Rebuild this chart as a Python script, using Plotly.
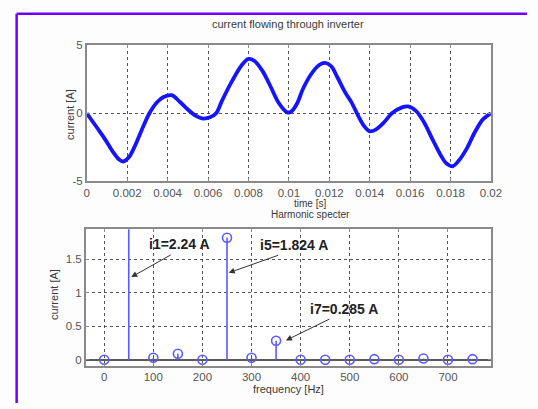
import plotly.graph_objects as go

# ---- time-domain current through the inverter ----
time_s = [0.0000, 0.0005, 0.0009, 0.0013, 0.0016, 0.0018, 0.0021, 0.0024, 0.0027,
          0.0031, 0.0035, 0.0038, 0.0042, 0.0046, 0.0050, 0.0054, 0.0057, 0.0061,
          0.0064, 0.0067, 0.0072, 0.0077, 0.0080, 0.0083, 0.0087, 0.0091, 0.0095,
          0.0099, 0.0101, 0.0104, 0.0107, 0.0111, 0.0115, 0.0118, 0.0121, 0.0124,
          0.0128, 0.0131, 0.0134, 0.0137, 0.0140, 0.0143, 0.0147, 0.0151, 0.0156,
          0.0159, 0.0163, 0.0167, 0.0171, 0.0175, 0.0178, 0.0181, 0.0184, 0.0188,
          0.0192, 0.0196, 0.0200]
current_a = [0.0, -1.05, -1.9, -2.85, -3.4, -3.55, -3.2, -2.35, -1.3,
             0.0, 0.85, 1.2, 1.33, 0.85, 0.28, -0.2, -0.38, -0.3,
             0.0, 0.95, 2.4, 3.6, 4.0, 3.85, 3.1, 1.95, 0.75,
             0.08, 0.1, 0.7, 1.8, 2.87, 3.55, 3.7, 3.45, 2.65,
             1.5, 0.8, -0.1, -0.9, -1.33, -1.2, -0.68, 0.0, 0.43,
             0.5, 0.15, -0.7, -1.9, -3.05, -3.7, -3.9, -3.5, -2.6,
             -1.4, -0.45, 0.0]
time_ticks = [0, 0.002, 0.004, 0.006, 0.008, 0.01, 0.012, 0.014, 0.016, 0.018, 0.02]
time_tick_text = ["0", "0.002", "0.004", "0.006", "0.008", "0.01", "0.012",
                  "0.014", "0.016", "0.018", "0.02"]

# ---- harmonic spectrum ----
freq_hz = [0, 50, 100, 150, 200, 250, 300, 350, 400, 450, 500, 550, 600, 650, 700, 750]
amp_a = [0.0, 2.24, 0.03, 0.09, 0.0, 1.824, 0.03, 0.285, 0.0, 0.0, 0.0, 0.01,
         0.0, 0.02, 0.0, 0.01]
freq_ticks = [0, 100, 200, 300, 400, 500, 600, 700]
amp_ticks = [0, 0.5, 1, 1.5]
amp_tick_text = ["0", "0.5", "1", "1.5"]

labels = ["i1=2.24 A", "i5=1.824 A", "i7=0.285 A"]
label_pos = [(154, 1.733), (386, 1.708), (488, 0.757)]
arrow_heads = [(55, 1.235), (253.5, 1.30), (370, 0.29)]
arrow_tails = [(41, -23), (51, -18), (45, -22)]

W, H = 538, 409
FONT = "Liberation Sans, Arial, sans-serif"
TICK_COL = "#555555"
GRID_COL = "#555555"
BOX_COL = "#8a8a8a"
BLUE_LINE = "#1414ff"
STEM_BLUE = "#5a5aff"

fig = go.Figure()

fig.add_trace(go.Scatter(
    x=time_s, y=current_a, mode="lines",
    line=dict(color=BLUE_LINE, width=3.8, shape="spline", smoothing=0.9),
    xaxis="x", yaxis="y", showlegend=False, hoverinfo="skip"))

# stems as broken line segments from 0 up to each amplitude
stem_x, stem_y = [], []
for f, a in zip(freq_hz, amp_a):
    stem_x += [f, f, None]
    stem_y += [0, a, None]
fig.add_trace(go.Scatter(
    x=stem_x, y=stem_y, mode="lines",
    line=dict(color=STEM_BLUE, width=1.6),
    xaxis="x2", yaxis="y2", showlegend=False, hoverinfo="skip"))
fig.add_trace(go.Scatter(
    x=freq_hz, y=amp_a, mode="markers",
    marker=dict(symbol="circle-open", size=9, color=STEM_BLUE,
                line=dict(color=STEM_BLUE, width=1.6)),
    xaxis="x2", yaxis="y2", showlegend=False, hoverinfo="skip"))


def px_x(px):
    return px / W


def px_y(py):
    return 1 - py / H


common_axis = dict(
    showline=True, mirror="ticks", linecolor=BOX_COL, linewidth=1.5,
    showgrid=True, gridcolor=GRID_COL, gridwidth=1, griddash="dot",
    ticks="inside", ticklen=3, tickcolor=BOX_COL,
    tickfont=dict(family=FONT, size=11.5, color=TICK_COL),
    zeroline=False, fixedrange=True,
)

fig.update_layout(
    width=W, height=H,
    margin=dict(l=0, r=0, t=0, b=0),
    paper_bgcolor="#fdfdfd", plot_bgcolor="#ffffff",
    xaxis=dict(domain=[px_x(86), px_x(501)], range=[0, 0.02],
               tickmode="array", tickvals=time_ticks, ticktext=time_tick_text,
               anchor="y", **common_axis),
    yaxis=dict(domain=[px_y(180.5), px_y(40.5)], range=[-5, 5],
               tickmode="array", tickvals=[-5, 0, 5], ticktext=["-5", "0", "5"],
               anchor="x", **common_axis),
    xaxis2=dict(domain=[px_x(85), px_x(501)], range=[-37.5, 787.5],
                tickmode="array", tickvals=freq_ticks,
                anchor="y2", **common_axis),
    yaxis2=dict(domain=[px_y(370.7), px_y(230)], range=[-0.09, 1.95],
                tickmode="array", tickvals=amp_ticks, ticktext=amp_tick_text,
                anchor="x2", **common_axis),
)
fig.update_yaxes(selector=dict(anchor="x2"), zeroline=True,
                 zerolinecolor="#5a5a5a", zerolinewidth=2)

# axis titles and subplot titles
text_items = [
    ("current flowing through inverter", 293, 19, 11, 0),
    ("time [s]", 315, 203.5, 10, 0),
    ("Harmonic specter", 316, 215, 10, 0),
    ("frequency [Hz]", 293, 395, 11, 0),
    ("current [A]", 68, 112, 11, -90),
    ("current [A]", 53, 297, 11, -90),
]
for txt, x, y, size, ang in text_items:
    fig.add_annotation(text=txt, x=px_x(x), y=px_y(y), xref="paper", yref="paper",
                       showarrow=False, textangle=ang,
                       font=dict(family=FONT, size=size, color="#3a3a3a"),
                       xanchor="center", yanchor="middle")

# value labels with pointer arrows on the spectrum
for txt, (lx, ly) in zip(labels, label_pos):
    fig.add_annotation(text="<b>" + txt + "</b>", x=lx, y=ly, xref="x2", yref="y2",
                       showarrow=False, font=dict(family=FONT, size=14, color="#222222"),
                       xanchor="center", yanchor="middle")
for (hx, hy), (ax, ay) in zip(arrow_heads, arrow_tails):
    fig.add_annotation(text="", x=hx, y=hy, xref="x2", yref="y2",
                       ax=ax, ay=ay, showarrow=True, arrowhead=2, arrowsize=1.2,
                       arrowwidth=1, arrowcolor="#333333")

# purple frame around the figure
fig.add_shape(type="line", xref="paper", yref="paper",
              x0=px_x(14), x1=px_x(14), y0=px_y(8), y1=0,
              line=dict(color="#7000ff", width=2.5))
fig.add_shape(type="line", xref="paper", yref="paper",
              x0=px_x(14), x1=1, y0=px_y(8), y1=px_y(8),
              line=dict(color="#7000ff", width=2.5))

fig.write_html("out.html")
